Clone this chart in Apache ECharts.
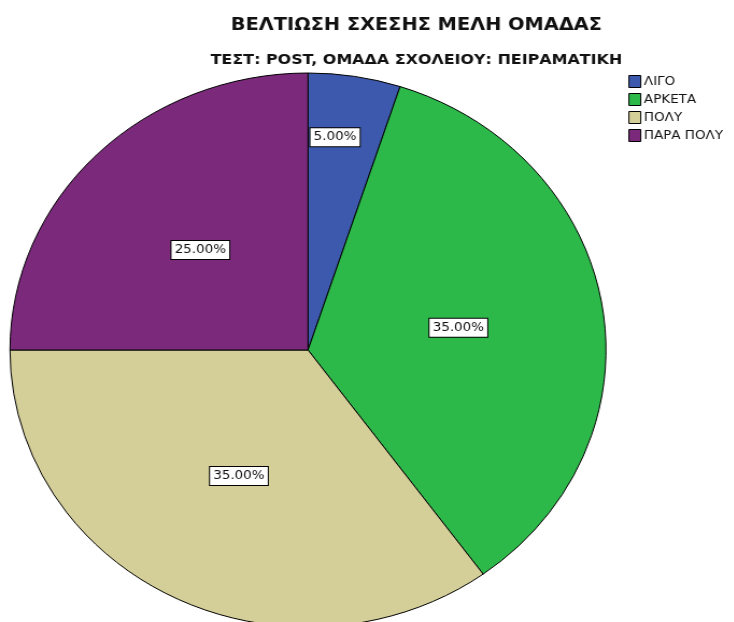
<!DOCTYPE html>
<html>
<head>
<meta charset="utf-8">
<script src="https://cdn.jsdelivr.net/npm/echarts@6/dist/echarts.min.js"></script>
<style>
html,body{margin:0;padding:0;background:#fff;}
#wrap{position:relative;width:734px;height:622px;overflow:hidden;}
#pie,#top{position:absolute;left:0;top:0;width:683px;height:622px;transform:scaleX(1.0758);transform-origin:0 0;}
</style>
</head>
<body>
<div id="wrap"><div id="pie"></div><div id="top"></div></div>
<script>
const titleText = 'ΒΕΛΤΙΩΣΗ ΣΧΕΣΗΣ ΜΕΛΗ ΟΜΑΔΑΣ';
const subtitleText = 'ΤΕΣΤ: POST, ΟΜΑΔΑ ΣΧΟΛΕΙΟΥ: ΠΕΙΡΑΜΑΤΙΚΗ';
const categories = ['ΛΙΓΟ', 'ΑΡΚΕΤΑ', 'ΠΟΛΥ', 'ΠΑΡΑ ΠΟΛΥ'];
const percentages = [5.00, 35.00, 35.00, 25.00];
const colors = ['#3D59AD', '#2DB84A', '#D4CE98', '#7B2A7B'];

const FONT = "'DejaVu Sans', sans-serif";
const SX = 1.0758; // horizontal stretch of the original picture

const pieChart = echarts.init(document.getElementById('pie'), null, {renderer: 'canvas'});
pieChart.setOption({
  animation: false,
  color: colors,
  series: [{
    type: 'pie',
    center: [308 / SX, 350],
    radius: [0, 277],
    startAngle: 90,
    clockwise: true,
    silent: true,
    itemStyle: {borderColor: '#000', borderWidth: 1},
    label: {
      show: true,
      position: 'inside',
      formatter: p => p.value.toFixed(2) + '%',
      fontFamily: FONT,
      fontSize: 12.5,
      color: '#111',
      backgroundColor: '#fff',
      borderColor: '#000',
      borderWidth: 1,
      padding: [3, 3, 2, 3]
    },
    labelLine: {show: false},
    data: categories.map((c, i) => {
      const item = {name: c, value: percentages[i]};
      if (percentages[i] < 10) item.label = {offset: [3, -73]};
      return item;
    })
  }]
});

const topChart = echarts.init(document.getElementById('top'), null, {renderer: 'canvas'});
topChart.setOption({
  animation: false,
  color: colors,
  title: [{
    text: titleText,
    left: 411 / SX, top: 11, textAlign: 'center',
    textStyle: {fontFamily: FONT, fontSize: 18, fontWeight: 'bold', color: '#111'}
  }, {
    text: subtitleText,
    left: 411 / SX, top: 48, textAlign: 'center',
    textStyle: {fontFamily: FONT, fontSize: 14.8, fontWeight: 'bold', color: '#111'}
  }],
  legend: {
    orient: 'vertical',
    left: 623 / SX, top: 70,
    itemWidth: 11, itemHeight: 12, itemGap: 5,
    icon: 'rect',
    data: categories,
    itemStyle: {opacity: 1, borderColor: '#000', borderWidth: 1},
    textStyle: {fontFamily: FONT, fontSize: 12.5, color: '#111', padding: [0, 0, 0, -2]}
  },
  series: [{
    type: 'pie',
    center: [308 / SX, 350],
    radius: [0, 1],
    silent: true,
    itemStyle: {opacity: 0},
    label: {show: false},
    labelLine: {show: false},
    data: categories.map((c, i) => ({name: c, value: percentages[i]}))
  }]
});
</script>
</body>
</html>
